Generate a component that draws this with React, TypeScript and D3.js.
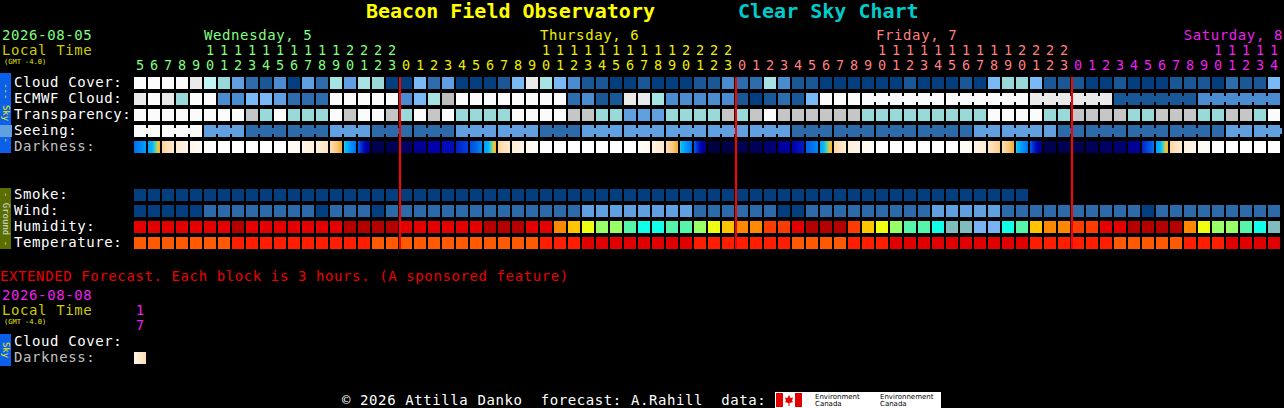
import React from "react";
import * as d3 from "d3";

// chart size
const W = 1284;
const H = 408;

const startDate = "2026-08-05";
const extDate = "2026-08-08";
const startHour = 5; // first column = 5am Wednesday
const dayNames = ["Wednesday, 5", "Thursday, 6", "Friday, 7", "Saturday, 8"];
const extHour = 17;

// cloud %, 100 = overcast
const cloudCover = [
  100, 100, 100, 100, 90, 80, 60, 40, 20, 10, 30, 0, 40, 20, 70, 40, 70, 60, 0,
  0, 50, 20, 40, 0, 0, 0, 10, 50, 90, 70, 50, 30, 10, 10, 0, 0, 10, 0, 0, 0, 10, 10, 30,
  20, 20, 70, 30, 10, 10, 0, 0, 0, 0, 0, 0, 10, 0, 0, 0, 10, 0, 50, 60, 60, 50, 10, 10,
  10, 0, 0, 10, 0, 0, 0, 10, 10, 10, 0, 20, 10, 10, 50,
];
// null = no data (grey)
const ecmwfCloud = [
  90, 100, 90, 60, 100, 100, 30, 30, 50, 50, 40, 20, 20, 20, 100, 100, 100, 100, 100,
  30, 50, 70, null, 100, 100, 100, 100, 100, 100, 100, 100, 20, 30, 10, 10, 90, 90, 70, 30, 30, 30, 30, 30,
  10, 0, 10, 20, 10, 50, 100, 100, 100, 100, 100, 100, 100, 100, 100, 100, 100, 100, 100, 100, 100, 90, 90,
  90, 90, 90, 90, 10, 10, 10, 10, 10, 10, 30, 30, 30, 30, 30, 30,
];
const ecmwfHourlyUntil = 52; // after this ECMWF comes in 6h blocks

// 0 too cloudy .. 5 best
const transparency = [
  0, 0, 0, 0, 0, 0, 0, 0, 1, 2, 0, 2, 2, 2, 0, 1, 0, 0, 1,
  2, 0, 1, 0, 2, 2, 2, 2, 0, 0, 0, 0, 1, 1, 2, 2, 3, 3, 3, 2, 2, 2, 2, 1,
  2, 1, 0, 1, 1, 1, 1, 1, 1, 2, 2, 2, 2, 2, 2, 2, 2, 2, 0, 0, 0, 0, 2, 2,
  1, 1, 1, 1, 2, 2, 1, 1, 1, 2, 2, 1, 1, 2, 0,
];
const seeing = [
  0, 0, 0, 0, 0, 3, 3, 3, 4, 4, 4, 4, 4, 4, 3, 3, 3, 4, 4,
  4, 4, 4, 4, 3, 3, 3, 3, 3, 3, 4, 4, 4, 3, 3, 3, 3, 3, 3, 3, 3, 3, 3, 3,
  3, 3, 3, 3, 4, 4, 4, 4, 4, 4, 4, 4, 4, 4, 4, 4, 4, 3, 3, 3, 3, 3, 3, 4,
  4, 4, 4, 4, 4, 4, 4, 4, 4, 4, 4, 3, 3, 3, 3, 3,
];
// sky darkness at start / end of each hour (0 = day, 9 = darkest)
const darkness: [number, number][] = [
  [4.3, 3.7], [3.7, 2.9], [2.3, 1.4], [1.3, 0.8], [0.8, 0.4], [0.3, 0.1], [0, 0], [0, 0], [0, 0], [0, 0],
  [0, 0], [0.3, 0.5], [0.8, 1.1], [1.2, 1.7], [2.0, 2.9], [3.25, 4.3], [4.5, 7.5], [8.5, 8.5], [8.5, 8.5],
  [8.0, 8.0], [7.0, 7.0], [6.5, 6.5], [6.0, 6.0], [5.6, 5.0], [4.8, 4.0], [3.7, 2.9], [2.3, 1.4], [1.2, 0.8],
  [0.6, 0.3], [0, 0], [0, 0], [0, 0], [0, 0], [0, 0], [0, 0], [0, 0], [0.3, 0.6], [0.9, 1.5], [2.0, 2.9],
  [3.25, 4.3], [4.5, 7.5], [9, 9], [8.8, 8.8], [8.5, 8.5], [8.3, 8.3], [7.7, 7.7], [7.0, 6.7], [6.3, 5.7],
  [4.5, 4.0], [3.6, 2.9], [2.2, 1.3], [1.1, 0.9], [0.6, 0.4], [0, 0], [0, 0], [0, 0], [0, 0], [0, 0], [0, 0],
  [0.3, 0.5], [0.9, 1.3], [1.7, 2.4], [2.0, 2.9], [3.25, 4.3], [4.5, 7.5], [8.5, 8.5], [8.5, 8.5], [8.5, 8.5],
  [8.3, 8.3], [8.0, 8.0], [7.7, 7.7], [7.0, 7.0], [5.5, 4.2], [3.7, 2.9], [2.2, 1.3], [1.0, 0.8], [0.5, 0.3],
  [0.15, 0.05], [0, 0], [0, 0], [0, 0], [0, 0],
];
const extDarkness: [number, number] = [0.8, 2.0];

const smoke = d3.range(64).map(() => 0); // ug/m3, only forecast for 64h
// mph
const wind = [
  3, 3, 3, 3, 3, 8, 8, 8, 8, 8, 8, 8, 8, 3, 8, 8, 8, 3, 8,
  8, 8, 8, 8, 8, 8, 8, 8, 8, 8, 8, 8, 8, 14, 14, 14, 14, 14, 14, 14, 14, 8, 8, 8,
  8, 8, 8, 3, 3, 8, 8, 8, 8, 8, 8, 8, 8, 8, 14, 14, 14, 14, 14, 8, 8, 8, 8, 8,
  8, 8, 8, 8, 8, 3, 8, 8, 8, 8, 8, 8, 8, 8, 8,
];
// %
const humidity = [
  92, 92, 92, 92, 92, 92, 92, 97, 92, 92, 92, 92, 92, 92, 92, 97, 97, 97, 97,
  92, 92, 92, 92, 92, 92, 97, 97, 97, 92, 92, 82, 77, 72, 67, 67, 62, 57, 57, 62, 62, 67, 72, 77,
  82, 82, 87, 87, 92, 97, 97, 97, 87, 77, 72, 67, 62, 62, 57, 52, 52, 47, 47, 57, 62, 77, 82, 82,
  87, 87, 92, 92, 97, 97, 97, 97, 82, 72, 67, 67, 62, 57, 52,
];
// F
const temperature = [
  73, 73, 73, 73, 73, 73, 73, 77, 77, 77, 77, 77, 77, 77, 77, 77, 77, 73, 73,
  73, 73, 73, 73, 73, 73, 73, 73, 73, 73, 77, 77, 77, 81, 81, 81, 81, 81, 81, 81, 81, 77, 77, 77,
  77, 77, 77, 77, 73, 73, 73, 73, 77, 77, 77, 81, 81, 81, 81, 81, 81, 81, 81, 81, 81, 77, 77, 77,
  77, 77, 77, 73, 73, 73, 73, 73, 77, 77, 77, 81, 81, 81, 81,
];

const N = cloudCover.length;
const MONO = "'DejaVu Sans Mono', monospace";
const dayColors = ["#80ff80", "#eeee00", "#ff8080", "#ee22ee"];

const x = d3.scaleBand<number>().domain(d3.range(N)).range([134, 1280]).paddingInner(2 / 14);
const bw = x.bandwidth();

const cloudColor = d3
  .scaleOrdinal<number, string>()
  .domain([0, 10, 20, 30, 40, 50, 60, 70, 80, 90, 100])
  .range(["#033f7f", "#1a5796", "#2d6dad", "#4b8bcf", "#5f9fe2", "#79b9f5", "#99d9d9", "#a6e4e4", "#c2f6f6", "#eaeaea", "#fbfbfb"]);
const qualColor = d3
  .scaleOrdinal<number, string>()
  .domain([0, 1, 2, 3, 4, 5])
  .range(["#fbfbfb", "#c6c6c6", "#99d9d9", "#60a0e0", "#2c6aaa", "#003f7f"]);
const darkColor = d3
  .scaleLinear<string>()
  .domain([0, 0.5, 1, 1.5, 2, 2.5, 2.85, 3.05, 3.2, 3.4, 3.7, 4.0, 4.4, 5, 5.6, 6.2, 6.8, 7.3, 8, 8.5, 9])
  .range(["#ffffff", "#fffaf3", "#fff1e0", "#ffe8cc", "#ffdcb0", "#fcca80", "#f2aa38", "#f2c838", "#50d8b0",
    "#00b4ff", "#00a0ff", "#0088f8", "#0064e8", "#0040e0", "#0020c8", "#0000b8", "#0000a0", "#000088",
    "#000064", "#000050", "#000040"])
  .clamp(true);
const smokeColor = d3.scaleThreshold<number, string>().domain([2, 5, 10]).range(["#033f7f", "#2c6aaa", "#60a0e0", "#99d9d9"]);
const windColor = d3.scaleThreshold<number, string>().domain([6, 12, 17]).range(["#033f7f", "#2c6aaa", "#60a0e0", "#99d9d9"]);
const humColor = d3
  .scaleThreshold<number, string>()
  .domain([50, 55, 60, 65, 70, 75, 80, 85, 90, 95])
  .range(["#78b2f2", "#80bcbc", "#10ffe6", "#55f5aa", "#99ff66", "#eeff11", "#ffc400", "#ff8800", "#ff3c00", "#e40000", "#b40000"]);
const tempColor = d3.scaleThreshold<number, string>().domain([75, 79]).range(["#ff5a00", "#ff1e00", "#e00000"]);

const absHour = (i: number) => startHour + i;

type RowProps = {
  values: (number | null)[];
  y: number;
  color: (v: number | null, i: number) => string;
  group?: (i: number) => number | null;
};

function CellRow({ values, y, color, group }: RowProps) {
  return (
    <g>
      {values.map((v, i) => (
        <rect key={i} x={x(i)} y={y} width={bw} height={bw} fill={color(v, i)} />
      ))}
      {group &&
        values.slice(0, -1).map((v, i) => {
          const g = group(i);
          if (g === null || g !== group(i + 1) || v !== values[i + 1]) return null;
          return <rect key={"c" + i} x={x(i)! + bw} y={y + 3} width={x.step() - bw} height={6} fill={color(v, i)} />;
        })}
    </g>
  );
}

// mono text, ~9px per character like the original bitmap font
function Label({ x: lx, y, children, fill = "#fff", size = 14 }: any) {
  return (
    <text x={lx} y={y} fill={fill} fontSize={size} letterSpacing={size >= 14 ? 0.6 : 0}
      fontFamily={MONO} style={{ whiteSpace: "pre" }}>
      {children}
    </text>
  );
}

function DarkGradient({ id, v }: { id: string; v: [number, number] }) {
  return (
    <linearGradient id={id} x1="0" x2="1" y1="0" y2="0">
      {d3.range(7).map((j) => {
        const t = j / 6;
        return <stop key={j} offset={t} stopColor={darkColor(v[0] + (v[1] - v[0]) * t)} />;
      })}
    </linearGradient>
  );
}

export default function App() {
  const skyY = [77, 93, 109, 125, 141];
  const gndY = [189, 205, 221, 237];
  const midnights = d3.range(1, N).filter((i) => absHour(i) % 24 === 0);

  // day name sits over its 10 o'clock column
  const dayStart = dayNames.map((_, d) => d * 24 + 10 - startHour);

  return (
    <div style={{ position: "fixed", left: 0, top: 0 }}>
      <svg width={W} height={H} style={{ display: "block", background: "#000" }}>
        <defs>
          {darkness.map((v, i) => (
            <DarkGradient key={i} id={"dk" + i} v={v} />
          ))}
          <DarkGradient id="dkext" v={extDarkness} />
        </defs>
        <rect width={W} height={H} fill="#000" />

        {/* title */}
        <text x={366} y={18} fill="#ffff00" fontSize={20} fontWeight="bold" fontFamily={MONO}>
          Beacon Field Observatory
        </text>
        <text x={738} y={18} fill="#00cccc" fontSize={20} fontWeight="bold" fontFamily={MONO}>
          Clear Sky Chart
        </text>

        <Label x={2} y={40} fill={dayColors[0]}>{startDate}</Label>
        <Label x={2} y={55} fill="#cccc00">Local Time</Label>
        <Label x={4} y={64} fill="#e8e800" size={7}>(GMT -4.0)</Label>

        {dayNames.map((name, d) => {
          const lx = x(Math.min(dayStart[d], N - 1))!;
          const tooWide = lx + name.length * 9.03 > W;
          return (
            <text key={name} x={tooWide ? W - 1 : lx} y={40} textAnchor={tooWide ? "end" : "start"}
              fill={dayColors[d]} fontSize={14} letterSpacing={0.6} fontFamily={MONO}>
              {name}
            </text>
          );
        })}

        {/* hour digits */}
        {d3.range(N).map((i) => {
          const h = absHour(i) % 24;
          const d = Math.floor(absHour(i) / 24);
          const cx = x(i)! + bw / 2;
          return (
            <g key={i} fill={dayColors[d]} fontSize={13.5} fontFamily={MONO} textAnchor="middle">
              {h >= 10 && <text x={cx} y={55}>{Math.floor(h / 10)}</text>}
              <text x={cx} y={70}>{h % 10}</text>
            </g>
          );
        })}

        {/* side bars */}
        <rect x={0} y={73} width={11} height={80} fill="#0b5fe8" />
        <text transform="translate(5.5,113) rotate(90)" textAnchor="middle" dominantBaseline="central"
          fontSize={9} fill="#eeee00" fontFamily={MONO} style={{ whiteSpace: "pre" }}>
          --- Sky ---
        </text>
        <rect x={0} y={188} width={11} height={61} fill="#5a6e00" />
        <text transform="translate(5.5,219) rotate(90)" textAnchor="middle" dominantBaseline="central"
          fontSize={9} fill="#dddddd" fontFamily={MONO} style={{ whiteSpace: "pre" }}>
          - Ground -
        </text>

        {/* row labels */}
        {["Cloud Cover:", "ECMWF Cloud:", "Transparency:", "Seeing:", "Darkness:"].map((t, k) => (
          <Label key={t} x={14} y={skyY[k] + 10} fill={k === 4 ? "#c0c0c0" : "#fff"}>{t}</Label>
        ))}
        {["Smoke:", "Wind:", "Humidity:", "Temperature:"].map((t, k) => (
          <Label key={t} x={14} y={gndY[k] + 10}>{t}</Label>
        ))}

        {/* sky rows */}
        <CellRow values={cloudCover} y={skyY[0]} color={(v) => cloudColor(v as number)} />
        <CellRow
          values={ecmwfCloud}
          y={skyY[1]}
          color={(v) => (v === null ? "#bdbdbd" : cloudColor(v))}
          group={(i) => (i < ecmwfHourlyUntil ? null : Math.floor((absHour(i) - 3) / 6))}
        />
        <CellRow values={transparency} y={skyY[2]} color={(v) => qualColor(v as number)} />
        <CellRow values={seeing} y={skyY[3]} color={(v) => qualColor(v as number)}
          group={(i) => Math.floor((absHour(i) - 1) / 3)} />
        <CellRow values={darkness.map((d) => d[0])} y={skyY[4]} color={(_, i) => `url(#dk${i})`} />

        {/* ground rows */}
        <CellRow values={smoke} y={gndY[0]} color={(v) => smokeColor(v as number)} />
        <CellRow values={wind} y={gndY[1]} color={(v) => windColor(v as number)} />
        <CellRow values={humidity} y={gndY[2]} color={(v) => humColor(v as number)} />
        <CellRow values={temperature} y={gndY[3]} color={(v) => tempColor(v as number)} />

        {/* midnight lines */}
        {midnights.map((i) => (
          <rect key={i} x={x(i)! - 1} y={77} width={2} height={172} fill="#ff0000" />
        ))}

        {/* extended forecast */}
        <Label x={0} y={281} fill="#ee0000">EXTENDED Forecast. Each block is 3 hours. (A sponsored feature)</Label>
        <Label x={2} y={300} fill="#ee22ee">{extDate}</Label>
        <Label x={2} y={315} fill="#cccc00">Local Time</Label>
        <Label x={4} y={324} fill="#e8e800" size={7}>(GMT -4.0)</Label>
        <g fill="#ee22ee" fontSize={13.5} fontFamily={MONO} textAnchor="middle">
          <text x={x(0)! + bw / 2} y={315}>{Math.floor(extHour / 10)}</text>
          <text x={x(0)! + bw / 2} y={330}>{extHour % 10}</text>
        </g>
        <rect x={0} y={334} width={11} height={32} fill="#0b5fe8" />
        <text transform="translate(5.5,350) rotate(90)" textAnchor="middle" dominantBaseline="central"
          fontSize={9} fill="#eeee00" fontFamily={MONO}>
          Sky
        </text>
        <Label x={14} y={346}>Cloud Cover:</Label>
        <Label x={14} y={362} fill="#c0c0c0">Darkness:</Label>
        <rect x={x(0)} y={352} width={bw} height={bw} fill="url(#dkext)" />

        {/* footer */}
        <Label x={342} y={405}>© 2026 Attilla Danko  forecast: A.Rahill  data:</Label>
        <rect x={775} y={392} width={166} height={16} fill="#fff" />
        <rect x={776} y={393} width={7} height={14} fill="#e00000" />
        <rect x={795} y={393} width={7} height={14} fill="#e00000" />
        <path d="M789,395 L790.5,398 L793,397.5 L792,401 L793.5,402 L789.5,403 L789.5,406 L788.5,406 L788.5,403 L784.5,402 L786,401 L785,397.5 L787.5,398 Z"
          fill="#e00000" />
        <g fill="#000" fontSize={7} fontFamily="'DejaVu Sans', sans-serif">
          <text x={815} y={399}>Environment</text>
          <text x={815} y={406}>Canada</text>
          <text x={880} y={399}>Environnement</text>
          <text x={880} y={406}>Canada</text>
        </g>
      </svg>
    </div>
  );
}
